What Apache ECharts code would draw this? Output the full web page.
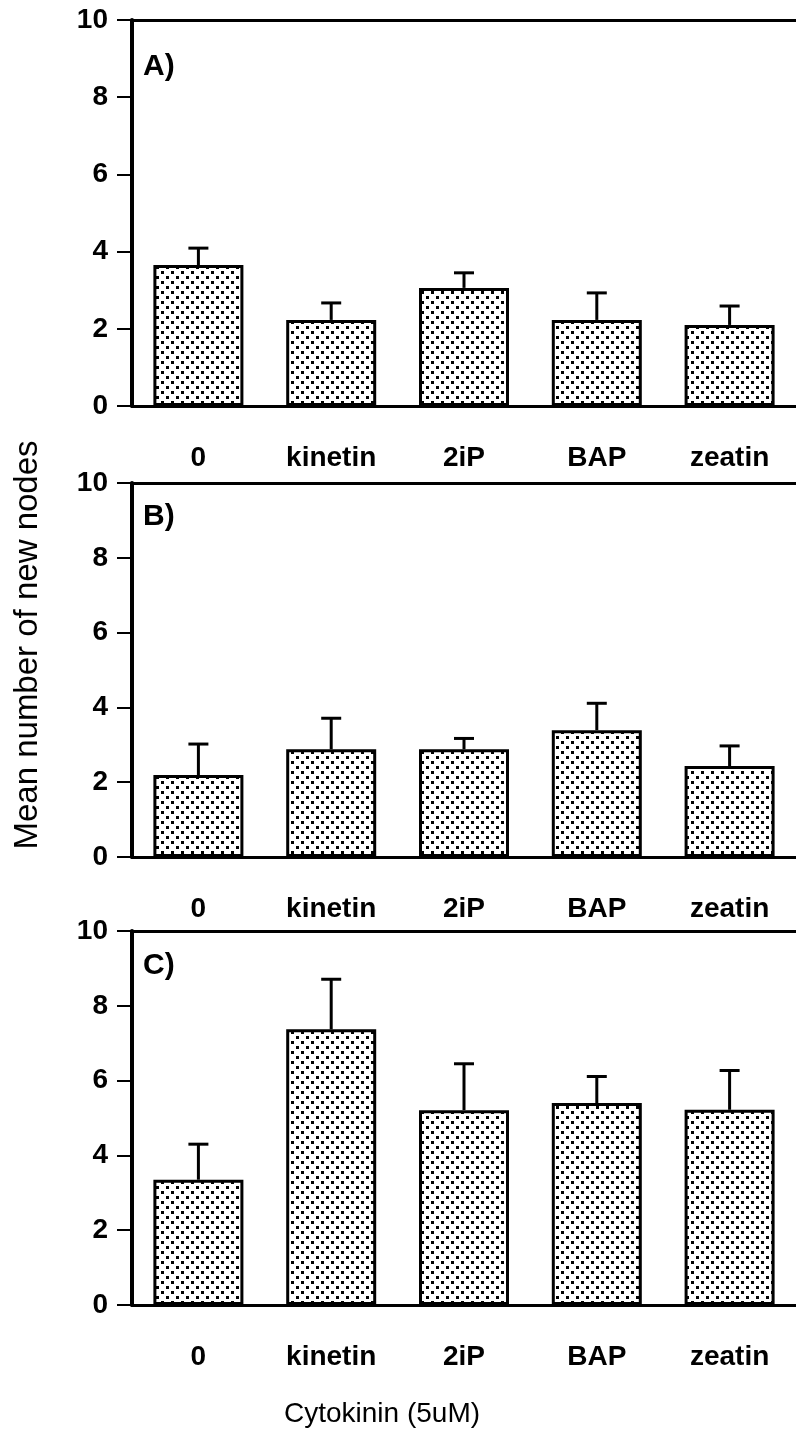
<!DOCTYPE html>
<html><head><meta charset="utf-8">
<script src="https://cdn.jsdelivr.net/npm/echarts@6/dist/echarts.min.js"></script>
<style>html,body{margin:0;padding:0;background:#fff}#c{width:796px;height:1435px}</style>
</head><body><div id="c"></div>
<script>
const categories = ['0', 'kinetin', '2iP', 'BAP', 'zeatin'];
const meansA = [3.65, 2.23, 3.06, 2.23, 2.10];
const errA   = [0.44, 0.44, 0.39, 0.70, 0.49];
const meansB = [2.19, 2.88, 2.88, 3.39, 2.43];
const errB   = [0.83, 0.83, 0.29, 0.72, 0.54];
const meansC = [3.35, 7.37, 5.21, 5.40, 5.22];
const errC   = [0.95, 1.34, 1.24, 0.71, 1.05];
const panelLabels = ['A)', 'B)', 'C)'];
const yAxisTitle = 'Mean number of new nodes';
const xAxisTitle = 'Cytokinin (5uM)';

const FONT = '"Liberation Sans", Arial, Helvetica, sans-serif';

// dotted fill pattern (diagonal lattice of small dots)
const pat = document.createElement('canvas');
pat.width = 10; pat.height = 10;
const pc = pat.getContext('2d');
pc.fillStyle = '#fff'; pc.fillRect(0, 0, 10, 10);
pc.fillStyle = '#000';
pc.fillRect(1, 1, 3, 3);
pc.fillRect(6, 6, 3, 3);

const panels = [
  { top: 20, height: 386, means: meansA, err: errA, labelY: 67 },
  { top: 483, height: 374, means: meansB, err: errB, labelY: 517 },
  { top: 931, height: 374, means: meansC, err: errC, labelY: 966 }
];

const grid = [], xAxis = [], yAxis = [], series = [], graphic = [];
panels.forEach((p, k) => {
  grid.push({ left: 132, width: 667, top: p.top, height: p.height });
  xAxis.push({
    type: 'category', gridIndex: k, data: categories,
    axisLine: { lineStyle: { color: '#000', width: 3 } },
    axisTick: { alignWithLabel: true, length: 15, lineStyle: { color: '#000', width: 2 } },
    axisLabel: { color: '#000', fontSize: 28, fontWeight: 'bold', fontFamily: FONT, margin: 38 }
  });
  xAxis.push({
    type: 'category', gridIndex: k, position: 'top', data: categories,
    axisLine: { lineStyle: { color: '#000', width: 3 } },
    axisTick: { show: false }, axisLabel: { show: false }
  });
  yAxis.push({
    type: 'value', gridIndex: k, min: 0, max: 10, interval: 2,
    axisLine: { show: true, lineStyle: { color: '#000', width: 4 } },
    axisTick: { show: true, length: 15, lineStyle: { color: '#000', width: 2 } },
    splitLine: { show: false },
    axisLabel: { color: '#000', fontSize: 28, fontWeight: 'bold', fontFamily: FONT, margin: 24 }
  });
  series.push({
    type: 'bar', xAxisIndex: 2 * k, yAxisIndex: k, data: p.means, barWidth: 90,
    itemStyle: { color: { image: pat, repeat: 'repeat' }, borderColor: '#000', borderWidth: 3 },
    silent: true
  });
  series.push({
    type: 'custom', xAxisIndex: 2 * k, yAxisIndex: k, clip: false, silent: true,
    data: p.means.map((m, i) => [i, m, p.err[i]]),
    renderItem: function (params, api) {
      const i = api.value(0), m = api.value(1), e = api.value(2);
      const b = api.coord([i, m]);
      const t = api.coord([i, m + e]);
      return {
        type: 'group', children: [
          { type: 'line', shape: { x1: b[0], y1: b[1], x2: t[0], y2: t[1] }, style: { stroke: '#000', lineWidth: 3 } },
          { type: 'line', shape: { x1: t[0] - 10, y1: t[1], x2: t[0] + 10, y2: t[1] }, style: { stroke: '#000', lineWidth: 3 } }
        ]
      };
    },
    z: 3
  });
  graphic.push({
    type: 'text', x: 143, y: p.labelY,
    style: { text: panelLabels[k], fontSize: 30, fontWeight: 'bold', fontFamily: FONT, fill: '#000', align: 'left', verticalAlign: 'middle' }
  });
});

graphic.push({
  type: 'text', x: 28, y: 645, rotation: Math.PI / 2,
  style: { text: yAxisTitle, fontSize: 33, fontFamily: FONT, fill: '#000', align: 'center', verticalAlign: 'middle' }
});
graphic.push({
  type: 'text', x: 382, y: 1414,
  style: { text: xAxisTitle, fontSize: 28, fontFamily: FONT, fill: '#000', align: 'center', verticalAlign: 'middle' }
});

const chart = echarts.init(document.getElementById('c'), null, { renderer: 'canvas' });
chart.setOption({
  backgroundColor: '#fff',
  animation: false,
  grid, xAxis, yAxis, series, graphic
});
</script></body></html>
